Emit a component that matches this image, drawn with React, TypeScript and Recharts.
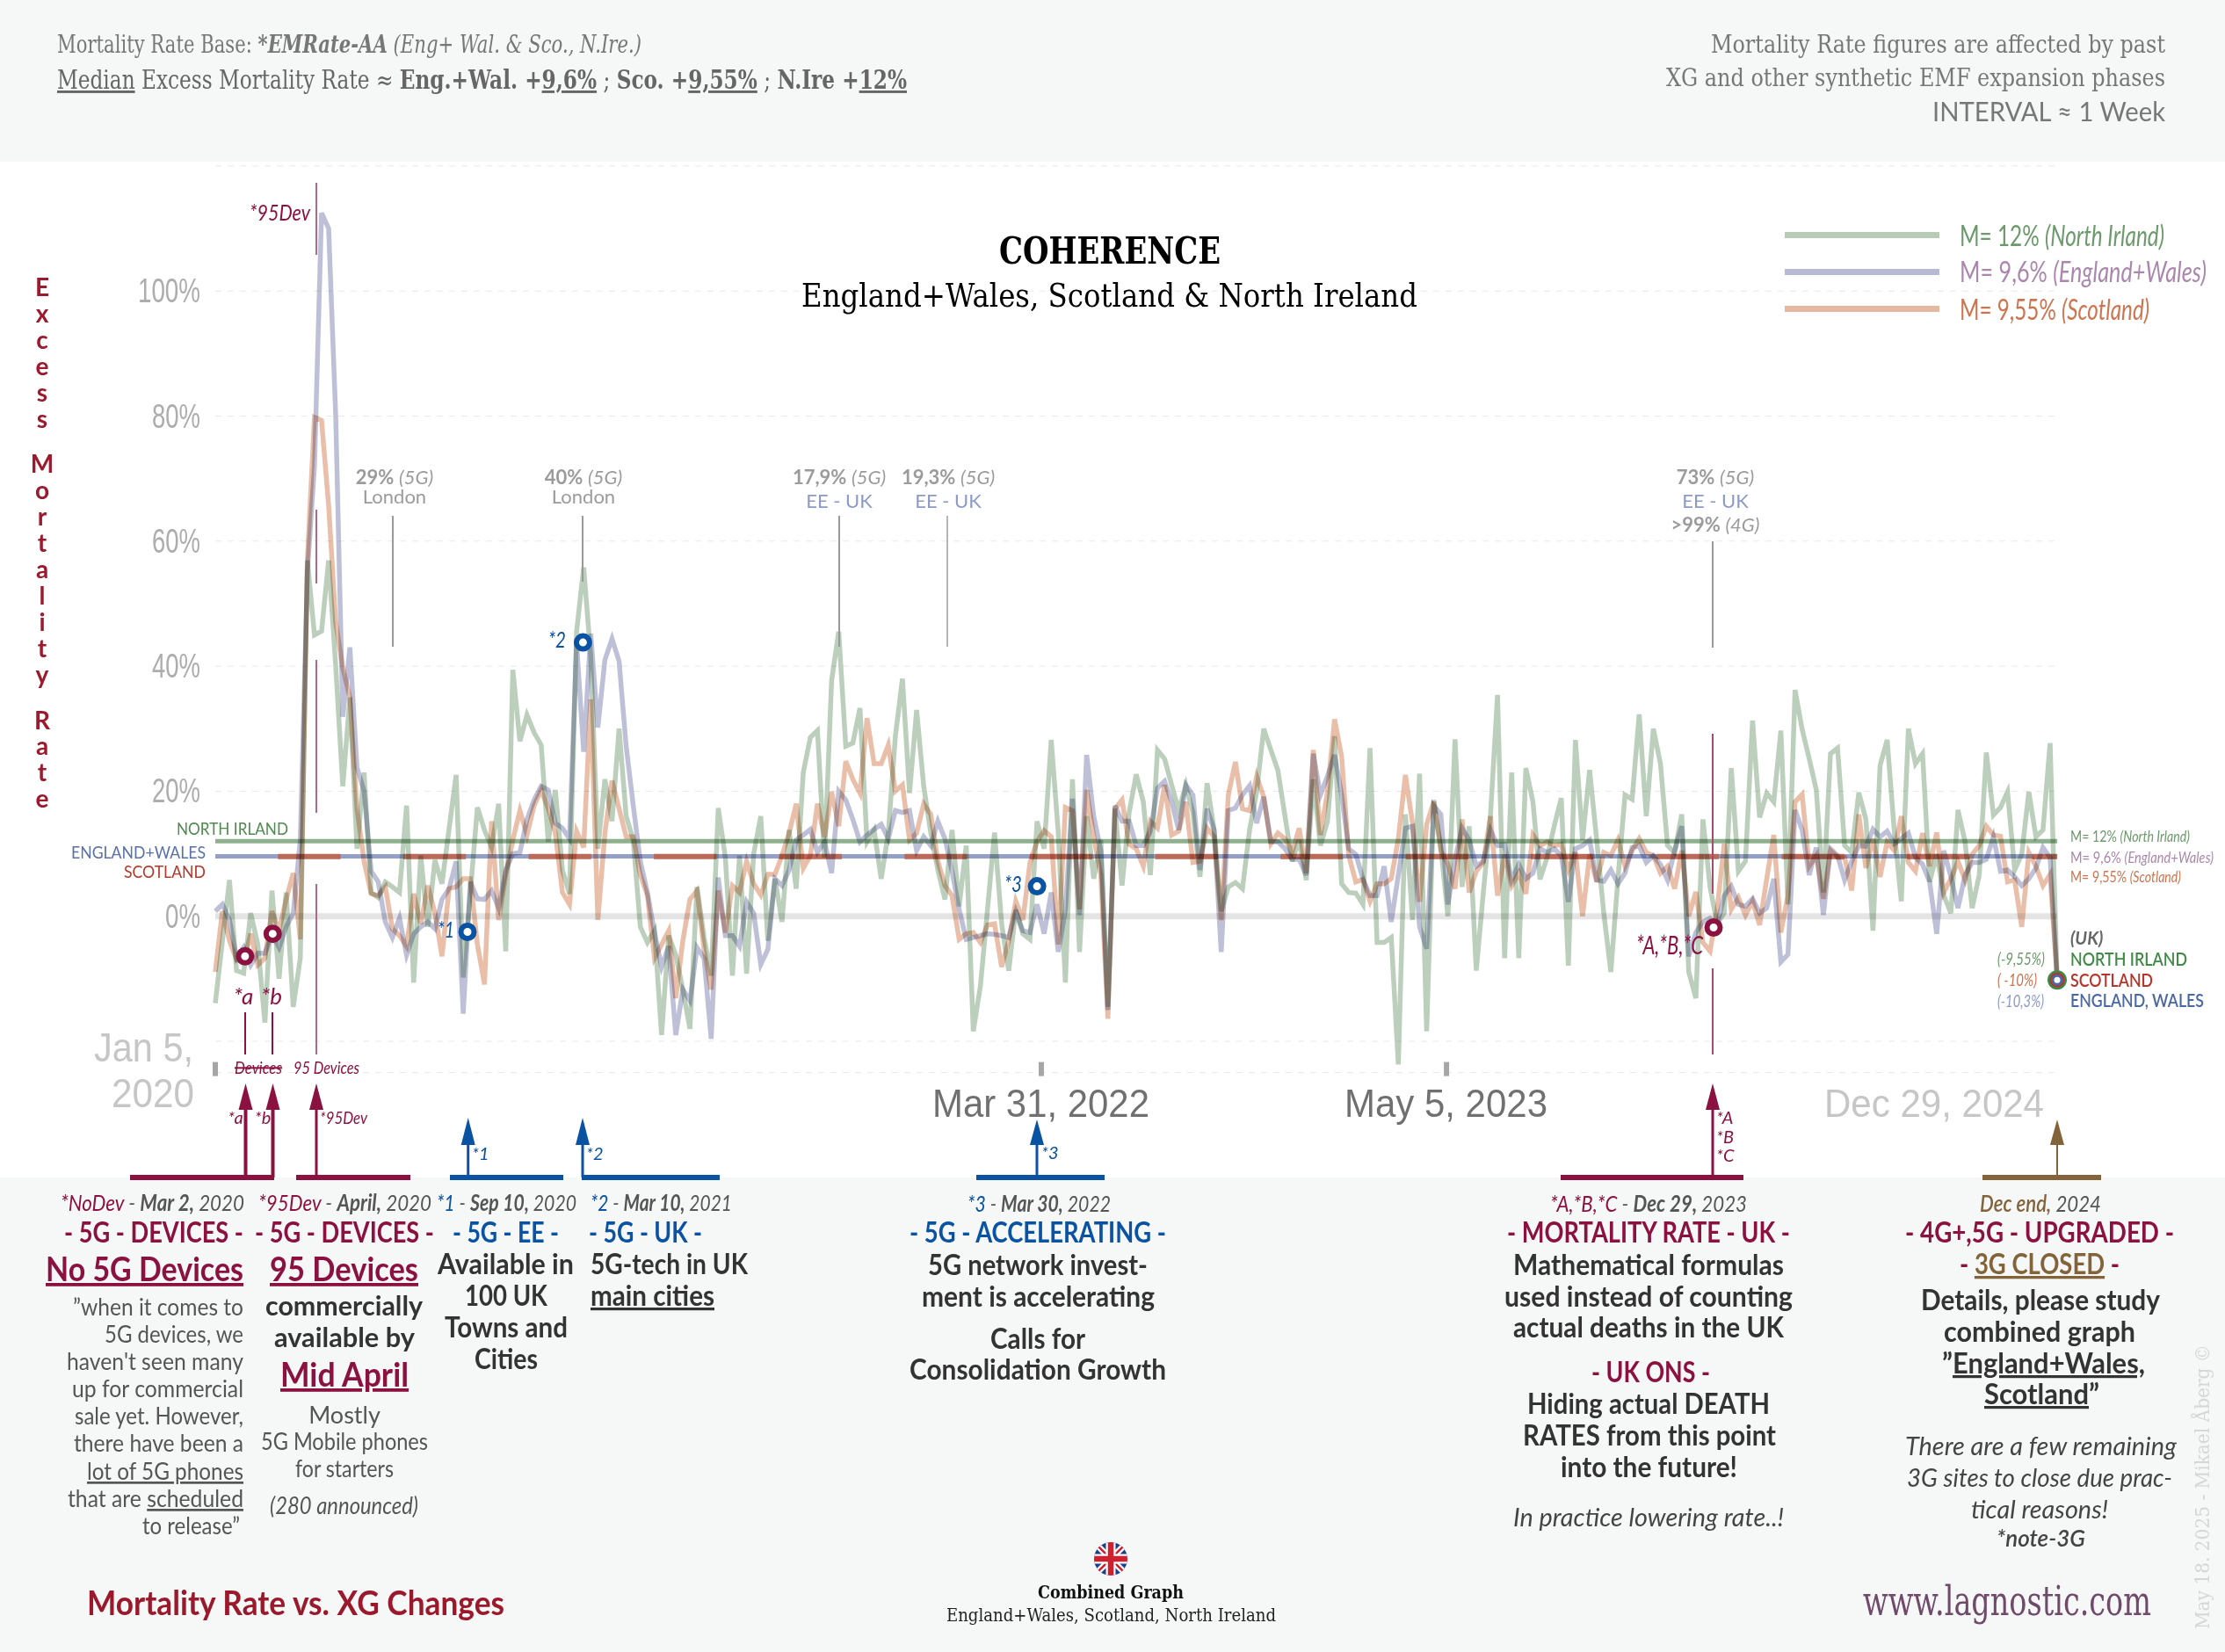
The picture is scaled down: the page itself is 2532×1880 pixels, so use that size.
import React from 'react';
import { LineChart, Line, XAxis, YAxis, CartesianGrid, ReferenceLine, ReferenceDot } from 'recharts';

const northIreland = [
  -13.9,-4,5.8,-8.7,-9.1,0.5,-4.5,-17,4.1,-10,3.8,-14.5,-6.7,56.9,45,45.6,56.9,40,20.8,35,10.8,23,3.8,3,5.5,
  4.7,3.8,17.7,-10.6,9.7,-1.7,9,5.2,14,22.6,-9.8,3.8,17.4,13.8,11,18,-5.6,39.4,28,32.2,
  29.4,27.4,11.9,20.2,7.4,3.6,45.5,55.8,41.6,10.8,21.9,15.2,30,16,12.2,-1.7,-4.2,-2.3,-19,-3.1,-6.2,-11.7,-18,4.7,-3.4,
  -9.5,17.3,9.4,-9.5,9.7,-9.2,10,16,-3.9,6,-0.9,13.8,4.4,23,28.6,29.7,9.4,37.7,
  45.5,27.2,27.7,33.3,11.9,13.8,6,13.3,28.8,38,19.7,33,20.8,13.3,7.4,2.7,13.8,1.6,11.3,-18.4,-11.2,1,13.4,-1.2,-8.7,1,
  -2.8,-3.7,15.2,10.8,28.2,13.3,-10.6,21.9,-5.7,16,6,12.2,-14.5,17.2,4.9,16.6,22.7,
  18.3,6.6,26.6,25.2,21,16.9,21,16.6,6.3,21.3,13.8,0.8,4.7,5.4,4.4,13.8,19.9,30,26.6,23.3,16,8.8,12.2,5.8,21.9,11.3,15.2,28.8,
  5.2,3.8,3.7,1.9,26.9,-4.2,-4.2,-3.4,-23.7,16.3,-0.6,22.8,-18.4,18.6,11,0,
  28.3,4.7,14.4,-8.7,3.8,16,35.4,-6.7,23,-6.7,23.7,18.3,5.9,9.4,14.4,18.9,-7.9,28.2,12.2,23.4,12.2,0.5,-8.9,6,19.4,18.7,32.3,
  16,30,24.4,11.3,10.2,16.3,-8.9,-13.1,15.5,4.7,-1.2,0.5,23.7,7.2,8.8,31.3,
  15.8,19.7,18.3,29.7,1.9,36.2,29.9,25.2,20.2,3.8,26,26.9,11.3,10.2,19.8,15.5,-2.3,24.1,28.2,13.8,2.4,30,24.4,26,5.5,9.9,3.3,
  0.5,17,11.9,1.3,6.6,26.2,16.2,17.4,19.9,7.4,9.9,19.9,12.7,13.8,27.7,-10
];

const englandWales = [
  0.8,1.9,-0.6,-6.7,-5,-7.8,-5.9,-5.9,-2.8,-5,-1.7,0.5,12.2,55,72,112.5,110,80,31.9,43,23.8,20,7.2,5.5,-0.9,
  -3.4,-0.3,-6.2,-2.8,-1.7,-0.9,-2,2.7,4.4,8.8,-15.6,5.5,2.8,2.7,4.1,1.3,7.4,10,10.2,15.5,
  18.6,20.8,20.2,14.9,14.1,12.4,43.8,26.3,45.2,30.2,41,44.4,40.8,27.2,17.7,8.8,3.8,-2.6,-8.1,-4.8,-19,-11.7,-13.5,-5,-6.7,
  -19.6,6.2,-3.1,-3.1,-4.8,2.3,0.5,-7.7,-5.3,6,4.9,7.4,12.2,13,13.9,10.2,11.9,6.9,
  20,18.6,15.5,11.9,13,13.9,14.7,12.4,16.9,16.6,16.9,10.5,12.7,11.3,15.2,12.4,7.2,1.1,-3.7,-3.4,-3.1,-2.8,-2.9,-3.1,-3.4,0.8,
  -2.3,-2.6,1.9,-2.8,3.8,-5.7,1.1,18.8,0.2,25.8,16,10.5,-15,17.7,15.2,15.2,11.3,
  11.3,13.6,20.5,21.6,18.3,13.8,21,19.4,7.4,17.2,13.8,-5.7,16.9,17.3,19.4,20.9,14.9,19.1,11.9,11.9,10.8,9.1,9.1,6.6,26,19.4,22.4,25.8,
  19.4,10.8,9.9,6,3.3,3.3,8,-0.9,6.6,14.1,14.4,-1.7,-5.2,17.7,16.3,1.9,
  9.1,14.1,12.2,8,8.8,13.8,11.3,11.5,5.8,8.3,6,6.9,10.8,10.2,10.8,9.7,2.3,10.8,11.3,12.2,5.8,5.6,7.4,5.2,6.9,11,11.3,
  8.6,9.7,8.3,5.8,10.5,14.4,-6.4,-2.6,-0.9,-0.3,-1.5,3.3,4.8,1.9,1.6,2.8,
  0.5,1.3,6,-7.3,-6.1,17,13.8,6.6,11,0.2,10.8,9.7,5.8,8.8,11.3,11.2,13.9,12.7,13.6,11.6,12.4,13.3,9.4,8.3,5.5,-2.8,10.5,
  6.3,1.3,6.6,8.6,8.6,9.1,12.7,7.2,7.4,6.3,4.9,6,7.7,11,9.4,-10.3
];

const scotland = [
  -8.9,0.8,-3.9,-7,-7.3,-2.8,-7.8,-6.7,0.8,-2.3,2.7,6.9,-3.7,57,79.8,79.3,65.7,47,39.7,35,17.2,8.8,3.6,3.3,4.7,
  -2,-3.1,-4.8,3.6,-1.2,4.9,0.5,-6.4,4.4,4.7,6,6,-4.5,-10.9,15.2,-0.6,6.6,12.2,16.9,13,
  17.7,20.2,17.2,13.3,3.8,1.9,13.6,11,34.7,-0.6,13.3,21.7,17.2,12.7,12.7,6.6,3.3,-6.7,-4.5,-2.3,-13.1,-3.9,2.7,4.1,-5.3,
  -11.7,4.1,-2.6,4.9,3.8,8.8,5.2,3.4,6.7,6.7,9.7,13.3,18,7.7,9.7,18,12.7,19.9,
  14.4,24.8,21.9,19.7,31.7,24.4,24.4,27.4,20,21,12.2,13.3,18,16.3,8.8,4.9,3.3,-3.7,-2.8,-2.6,-4.2,-1.4,-1.2,-8.1,-3.9,2.4,
  -0.6,8.6,11.9,13.7,12.7,-4.5,17.4,16.9,1.1,20.2,12.7,6.6,-16.4,17.2,18.6,11.5,10.8,
  8,15.2,14.1,21,13,13.6,18.3,8.6,8.8,14.1,12.7,-0.6,19.4,24.7,17.2,16.9,22.4,19.1,11.6,13.3,12.4,10.2,14.1,6.9,26.6,13,19.9,31.5,
  25.5,9.7,5.5,5.9,2.4,5.2,5.2,6,12.4,22.6,14.9,2.3,14.7,18.3,10.5,8.3,
  4.4,15.5,3.8,7.2,8.6,16,3.3,9.9,4.9,6.9,3.6,13,11.3,11.9,11.3,11.5,7.4,10.2,0,9.9,5.5,10.2,9.7,12.2,8,10.5,12.4,
  10.2,9.7,6.9,8,4.4,10.5,0,3.9,-4.2,-5.6,1.1,11.6,1.1,3,0.2,2.4,
  -1.4,6,13,-2.6,3.3,18.3,19.5,8,9.7,2.8,10.5,9.4,9.4,4.1,16.3,7.7,12.4,6.3,11.9,10.5,16,8.6,7.2,13.3,8,13.4,3.8,
  6,8.8,5.8,9.9,11.3,14.4,13,12.8,5.5,5.8,-1.7,10.2,8,4.9,6.7,-10
];

const chartData = northIreland.map((v, week) => ({ week, ni: v, ew: englandWales[week], sc: scotland[week] }));

const yTicks = [-20, 0, 20, 40, 60, 80, 100];
const xTicks = [0, 116.6, 173.8, 260];
const medians = { ni: 12, ew: 9.6, sc: 9.55 };
const crimsonMarkers = [
  { week: 4.2, value: -6.4 },
  { week: 8.1, value: -2.8 },
  { week: 211.5, value: -1.8 },
];
const blueMarkers = [
  { week: 35.6, value: -2.5 },
  { week: 51.9, value: 43.8 },
  { week: 116, value: 4.8 },
];
const endValue = -10.2;

const sideTitle = 'Excess Mortality Rate';

const CRIM = '#8b1240';
const BLUE = '#0a52a2';
const BROWN = '#83633a';
const SANS = 'Lato, "Open Sans", sans-serif';
const SERIF = '"DejaVu Serif", serif';
const NARROW = '"Liberation Sans", sans-serif';

function T(p: any) {
  const { x, y, to, size = 26, b, i, fill = '#444', anchor = 'start', u, font = SANS, children, rotate } = p;
  const w = to !== undefined ? Math.abs(to - x) : undefined;
  const extra: any = {};
  if (w !== undefined) { extra.textLength = w; extra.lengthAdjust = 'spacingAndGlyphs'; }
  if (rotate !== undefined) extra.transform = `rotate(${rotate} ${x} ${y})`;
  return (
    <text x={x} y={y} fontSize={size} fontWeight={b === true ? 700 : b || 400} fontStyle={i ? 'italic' : 'normal'}
      fill={fill} textAnchor={anchor} fontFamily={font} textDecoration={u ? 'underline' : undefined} {...extra}>
      {children}
    </text>
  );
}

function YTick(props: any) {
  const { y, payload } = props;
  if (payload.value < 0) return <g />;
  const v = payload.value;
  const len = v === 100 ? 71 : v === 0 ? 40 : 55;
  return (
    <text x={228 - len} y={y + 13} fontSize={38} fill="#adadad" fontFamily={NARROW} textLength={len} lengthAdjust="spacingAndGlyphs">
      {v}%
    </text>
  );
}

function XTick(props: any) {
  const { x, y, payload } = props;
  const mark = <rect x={x - 3} y={y - 12} width={6} height={16} fill="#a6a6a6" />;
  if (payload.value === 0) {
    return (
      <g>
        {mark}
        <text x={107} y={1208} fontSize={46} fill="#c6c6c6" fontFamily={NARROW} textLength={113} lengthAdjust="spacingAndGlyphs">Jan 5,</text>
        <text x={127} y={1260} fontSize={46} fill="#c6c6c6" fontFamily={NARROW} textLength={94} lengthAdjust="spacingAndGlyphs">2020</text>
      </g>
    );
  }
  if (payload.value === 260) {
    return <text x={2076} y={1271} fontSize={44} fill="#c6c6c6" fontFamily={NARROW} textLength={250} lengthAdjust="spacingAndGlyphs">Dec 29, 2024</text>;
  }
  const first = payload.value < 150;
  return (
    <g>
      {mark}
      <text x={first ? 1061 : 1530} y={1271} fontSize={44} fill="#707070" fontFamily={NARROW} textLength={first ? 247 : 231} lengthAdjust="spacingAndGlyphs">
        {first ? 'Mar 31, 2022' : 'May 5, 2023'}
      </text>
    </g>
  );
}

function Arrow({ x, tip, base, bar0, bar1, color, sw = 3 }: any) {
  const hw = 8;
  return (
    <g>
      <line x1={x} x2={x} y1={base} y2={1340} stroke={color} strokeWidth={sw} />
      <polygon points={`${x},${tip} ${x - hw},${base} ${x + hw},${base}`} fill={color} />
      <rect x={bar0} y={1337} width={bar1 - bar0} height={6} fill={color} />
    </g>
  );
}

function Flag() {
  return (
    <g transform="translate(1264 1774)">
      <clipPath id="flagClip"><circle r={19} /></clipPath>
      <g clipPath="url(#flagClip)">
        <rect x={-20} y={-20} width={40} height={40} fill="#1f3d8a" />
        <path d="M-20,-20 L20,20 M20,-20 L-20,20" stroke="#fff" strokeWidth={7} />
        <path d="M-20,-20 L20,20 M20,-20 L-20,20" stroke="#cf2030" strokeWidth={2.5} />
        <path d="M0,-20 V20 M-20,0 H20" stroke="#fff" strokeWidth={11} />
        <path d="M0,-20 V20 M-20,0 H20" stroke="#cf2030" strokeWidth={6.5} />
      </g>
    </g>
  );
}

function Lead({ x, y1, y2, c = '#999', w = 2 }: any) {
  return <line x1={x} x2={x} y1={y1} y2={y2} stroke={c} strokeWidth={w} />;
}

function Overlay() {
  return (
    <svg width={2532} height={1880} style={{ position: 'absolute', left: 0, top: 0 }}>
      {/* header */}
      <T x={65} y={60} to={730} size={27} font={SERIF} fill="#777">
        Mortality Rate Base: <tspan fontWeight={700} fontStyle="italic">*EMRate-AA</tspan> <tspan fontStyle="italic">(Eng+ Wal. &amp; Sco., N.Ire.)</tspan>
      </T>
      <T x={65} y={101} to={1032} size={29} font={SERIF} fill="#666">
        <tspan textDecoration="underline">Median</tspan> Excess Mortality Rate ≈ <tspan fontWeight={700}>Eng.+Wal. +<tspan textDecoration="underline">9,6%</tspan></tspan> ; <tspan fontWeight={700}>Sco. +<tspan textDecoration="underline">9,55%</tspan></tspan> ; <tspan fontWeight={700}>N.Ire +<tspan textDecoration="underline">12%</tspan></tspan>
      </T>
      <T x={1947} y={60} to={2464} size={28} font={SERIF} fill="#777">Mortality Rate figures are affected by past</T>
      <T x={1896} y={98} to={2464} size={28} font={SERIF} fill="#777">XG and other synthetic EMF expansion phases</T>
      <T x={2199} y={138} to={2464} size={31} fill="#777">INTERVAL ≈ 1 Week</T>

      {/* title */}
      <T x={1137} y={300} to={1389} size={43} b font={SERIF} fill="#000">COHERENCE</T>
      <T x={912} y={349} to={1613} size={38} font={SERIF} fill="#000">England+Wales, Scotland &amp; North Ireland</T>

      {/* legend */}
      <rect x={2031} y={264} width={176} height={7} fill="#b7cbb7" />
      <rect x={2031} y={306} width={176} height={7} fill="#b8bad3" />
      <rect x={2031} y={348} width={176} height={7} fill="#e5b8a2" />
      <T x={2230} y={280} to={2463} size={33} fill="#6b9a6b">M= 12% <tspan fontStyle="italic">(North Irland)</tspan></T>
      <T x={2230} y={321} to={2511} size={33} fill="#ab86ad">M= 9,6% <tspan fontStyle="italic">(England+Wales)</tspan></T>
      <T x={2230} y={364} to={2446} size={33} fill="#cc7550">M= 9,55% <tspan fontStyle="italic">(Scotland)</tspan></T>

      {/* side title */}
      {(() => {
        let y = 337;
        return sideTitle.split('').map((ch, k) => {
          const cy = y;
          y += ch === ' ' ? 22 : 29.9;
          if (ch === ' ') return null;
          return <text key={k} x={48} y={cy} textAnchor="middle" fontSize={28} fontWeight={700} fill="#9b1a2e" fontFamily={SANS}>{ch}</text>;
        });
      })()}

      {/* mean labels */}
      <T x={328} y={950} to={201} size={19} anchor="end" fill="#4e8b4e">NORTH IRLAND</T>
      <T x={234} y={977} to={81} size={19} anchor="end" fill="#5a70a8">ENGLAND+WALES</T>
      <T x={234} y={999} to={141} size={19} anchor="end" fill="#b5392a">SCOTLAND</T>
      <T x={2356} y={958} to={2492} size={18} fill="#6b9a6b">M= 12% <tspan fontStyle="italic">(North Irland)</tspan></T>
      <T x={2356} y={982} to={2519} size={18} fill="#ab86ad">M= 9,6% <tspan fontStyle="italic">(England+Wales)</tspan></T>
      <T x={2356} y={1004} to={2482} size={18} fill="#cc7550">M= 9,55% <tspan fontStyle="italic">(Scotland)</tspan></T>
      <T x={2356} y={1075} size={20} i b fill="#666">(UK)</T>
      <T x={2356} y={1099} to={2489} size={21} b={600} fill="#3f8a45">NORTH IRLAND</T>
      <T x={2356} y={1123} to={2450} size={21} b={600} fill="#b8342a">SCOTLAND</T>
      <T x={2356} y={1146} to={2508} size={21} b={600} fill="#4a68a5">ENGLAND, WALES</T>
      <T x={2273} y={1098} to={2327} size={19} i fill="#6c9a6c">(-9,55%)</T>
      <T x={2273} y={1122} to={2318} size={19} i fill="#cc7550">( -10%)</T>
      <T x={2273} y={1146} to={2326} size={19} i fill="#8d9ac8">(-10,3%)</T>

      {/* leaders */}
      <Lead x={360} y1={208} y2={290} c="#b06a85" />
      <Lead x={360} y1={580} y2={664} c="#b06a85" />
      <Lead x={360} y1={751} y2={925} c="#b06a85" />
      <Lead x={360} y1={1006} y2={1200} c="#b06a85" />
      <Lead x={279} y1={1152} y2={1200} c={CRIM} />
      <Lead x={310} y1={1152} y2={1200} c={CRIM} />
      <Lead x={1949} y1={835} y2={1017} c="#a84a70" />
      <Lead x={1949} y1={1102} y2={1200} c="#a84a70" />
      <Lead x={447} y1={587} y2={736} />
      <Lead x={663} y1={587} y2={662} />
      <Lead x={955} y1={587} y2={736} />
      <Lead x={1078} y1={587} y2={736} c="#b5b5b5" />
      <Lead x={1949} y1={616} y2={737} />

      {/* chart callouts */}
      <T x={284} y={251} to={353} size={25} i fill={CRIM}>*95Dev</T>
      <T x={277} y={1143} size={26} i anchor="middle" fill={CRIM}>*a</T>
      <T x={309} y={1143} size={26} i anchor="middle" fill={CRIM}>*b</T>
      <T x={498} y={1067} to={517} size={26} i fill={BLUE}>*1</T>
      <T x={624} y={737} to={644} size={26} i fill={BLUE}>*2</T>
      <T x={1143} y={1015} to={1163} size={26} i fill={BLUE}>*3</T>
      <T x={1862} y={1086} to={1938} size={28} i fill={CRIM}>*A,*B,*C</T>

      <T x={449} y={551} size={22} anchor="middle" fill="#9b9b9b"><tspan fontWeight={700}>29%</tspan> <tspan fontStyle="italic">(5G)</tspan></T>
      <T x={449} y={573} size={22} anchor="middle" fill="#9b9b9b">London</T>
      <T x={664} y={551} size={22} anchor="middle" fill="#9b9b9b"><tspan fontWeight={700}>40%</tspan> <tspan fontStyle="italic">(5G)</tspan></T>
      <T x={664} y={573} size={22} anchor="middle" fill="#9b9b9b">London</T>
      <T x={955} y={551} size={22} anchor="middle" fill="#9b9b9b"><tspan fontWeight={700}>17,9%</tspan> <tspan fontStyle="italic">(5G)</tspan></T>
      <T x={955} y={578} size={22} anchor="middle" fill="#8d9ac8">EE - UK</T>
      <T x={1079} y={551} size={22} anchor="middle" fill="#9b9b9b"><tspan fontWeight={700}>19,3%</tspan> <tspan fontStyle="italic">(5G)</tspan></T>
      <T x={1079} y={578} size={22} anchor="middle" fill="#8d9ac8">EE - UK</T>
      <T x={1952} y={551} size={22} anchor="middle" fill="#9b9b9b"><tspan fontWeight={700}>73%</tspan> <tspan fontStyle="italic">(5G)</tspan></T>
      <T x={1952} y={578} size={22} anchor="middle" fill="#8d9ac8">EE - UK</T>
      <T x={1952} y={605} size={22} anchor="middle" fill="#9b9b9b"><tspan fontWeight={700}>&gt;99%</tspan> <tspan fontStyle="italic">(4G)</tspan></T>

      <T x={267} y={1222} to={321} size={20} i fill={CRIM}><tspan textDecoration="line-through">Devices</tspan></T>
      <T x={334} y={1222} to={409} size={20} i fill={CRIM}>95 Devices</T>

      {/* arrows */}
      <Arrow x={279.5} tip={1233} base={1263} bar0={148} bar1={312} color={CRIM} sw={4} />
      <Arrow x={310.5} tip={1233} base={1263} bar0={148} bar1={312} color={CRIM} sw={4} />
      <Arrow x={360} tip={1233} base={1263} bar0={337} bar1={467} color={CRIM} />
      <Arrow x={532.7} tip={1272} base={1303} bar0={512} bar1={641} color={BLUE} />
      <Arrow x={663} tip={1272} base={1303} bar0={662} bar1={819} color={BLUE} />
      <Arrow x={1180} tip={1274} base={1303} bar0={1111} bar1={1257} color={BLUE} />
      <Arrow x={1949} tip={1233} base={1263} bar0={1776} bar1={1984} color={CRIM} />
      <Arrow x={2341} tip={1274} base={1303} bar0={2256} bar1={2391} color={BROWN} sw={2} />
      <T x={268} y={1279} size={20} i anchor="middle" fill={CRIM}>*a</T>
      <T x={299} y={1279} size={20} i anchor="middle" fill={CRIM}>*b</T>
      <T x={364} y={1279} to={418} size={20} i fill={CRIM}>*95Dev</T>
      <T x={537} y={1320} size={20} i fill={BLUE}>*1</T>
      <T x={667} y={1320} size={20} i fill={BLUE}>*2</T>
      <T x={1185} y={1319} size={20} i fill={BLUE}>*3</T>
      <T x={1953} y={1279} size={20} i fill={CRIM}>*A</T>
      <T x={1953} y={1301} size={20} i fill={CRIM}>*B</T>
      <T x={1953} y={1322} size={20} i fill={CRIM}>*C</T>

      {/* column 1 */}
      <T x={69} y={1378} to={278} size={26} i fill="#555"><tspan fill={CRIM}>*NoDev</tspan> - <tspan fontWeight={700}>Mar 2,</tspan> 2020</T>
      <T x={73} y={1414} to={277} size={33} b fill={CRIM}>- 5G - DEVICES -</T>
      <T x={52} y={1458} to={277} size={38} b fill={CRIM} u>No 5G Devices</T>
      <T x={83} y={1497} to={277} size={27} fill="#555">”when it comes to</T>
      <T x={119} y={1528} to={277} size={27} fill="#555">5G devices, we</T>
      <T x={76} y={1559} to={277} size={27} fill="#555">haven't seen many</T>
      <T x={82} y={1590} to={277} size={27} fill="#555">up for commercial</T>
      <T x={85} y={1621} to={277} size={27} fill="#555">sale yet. However,</T>
      <T x={84} y={1652} to={277} size={27} fill="#555">there have been a</T>
      <T x={99} y={1684} to={277} size={27} fill="#555" u>lot of 5G phones</T>
      <T x={77} y={1715} to={277} size={27} fill="#555">that are <tspan textDecoration="underline">scheduled</tspan></T>
      <T x={162} y={1746} to={273} size={27} fill="#555">to release”</T>

      {/* column 2 */}
      <T x={294} y={1378} to={491} size={26} i fill="#555"><tspan fill={CRIM}>*95Dev</tspan> - <tspan fontWeight={700}>April,</tspan> 2020</T>
      <T x={290} y={1414} to={494} size={33} b fill={CRIM}>- 5G - DEVICES -</T>
      <T x={307} y={1458} to={476} size={38} b fill={CRIM} u>95 Devices</T>
      <T x={302} y={1497} to={481} size={31} b fill="#333">commercially</T>
      <T x={312} y={1533} to={472} size={31} b fill="#333">available by</T>
      <T x={319} y={1578} to={465} size={38} b fill={CRIM} u>Mid April</T>
      <T x={392} y={1620} size={27} anchor="middle" fill="#555">Mostly</T>
      <T x={297} y={1650} to={487} size={27} fill="#555">5G Mobile phones</T>
      <T x={336} y={1681} to={448} size={27} fill="#555">for starters</T>
      <T x={307} y={1723} to={476} size={27} i fill="#555">(280 announced)</T>

      {/* column 3 */}
      <T x={497} y={1378} to={656} size={26} i fill="#555"><tspan fill={BLUE}>*1</tspan> - <tspan fontWeight={700}>Sep 10,</tspan> 2020</T>
      <T x={515} y={1414} to={636} size={33} b fill={BLUE}>- 5G - EE -</T>
      <T x={498} y={1450} to={653} size={32} b fill="#333">Available in</T>
      <T x={529} y={1486} to={623} size={32} b fill="#333">100 UK</T>
      <T x={506} y={1522} to={646} size={32} b fill="#333">Towns and</T>
      <T x={540} y={1558} to={612} size={32} b fill="#333">Cities</T>

      {/* column 4 */}
      <T x={672} y={1378} to={833} size={26} i fill="#555"><tspan fill={BLUE}>*2</tspan> - <tspan fontWeight={700}>Mar 10,</tspan> 2021</T>
      <T x={670} y={1414} to={799} size={33} b fill={BLUE}>- 5G - UK -</T>
      <T x={672} y={1450} to={851} size={32} b fill="#333">5G-tech in UK</T>
      <T x={672} y={1486} to={813} size={32} b fill="#333" u>main cities</T>

      <T x={99} y={1838} to={574} size={39} b fill="#9a1a2c">Mortality Rate vs. XG Changes</T>

      {/* column *3 */}
      <T x={1101} y={1379} to={1264} size={26} i fill="#555"><tspan fill={BLUE}>*3</tspan> - <tspan fontWeight={700}>Mar 30,</tspan> 2022</T>
      <T x={1035} y={1414} to={1327} size={33} b fill={BLUE}>- 5G - ACCELERATING -</T>
      <T x={1056} y={1451} to={1306} size={32} b fill="#333">5G network invest-</T>
      <T x={1049} y={1487} to={1314} size={32} b fill="#333">ment is accelerating</T>
      <T x={1127} y={1535} to={1235} size={32} b fill="#333">Calls for</T>
      <T x={1035} y={1570} to={1327} size={32} b fill="#333">Consolidation Growth</T>

      {/* column A */}
      <T x={1764} y={1379} to={1988} size={26} i fill="#555"><tspan fill={CRIM}>*A,*B,*C</tspan> - <tspan fontWeight={700}>Dec 29,</tspan> 2023</T>
      <T x={1715} y={1414} to={2037} size={33} b fill={CRIM}>- MORTALITY RATE - UK -</T>
      <T x={1722} y={1451} to={2030} size={32} b fill="#333">Mathematical formulas</T>
      <T x={1712} y={1487} to={2040} size={32} b fill="#333">used instead of counting</T>
      <T x={1722} y={1522} to={2030} size={32} b fill="#333">actual deaths in the UK</T>
      <T x={1811} y={1573} to={1946} size={33} b fill={CRIM}>- UK ONS -</T>
      <T x={1738} y={1609} to={2014} size={32} b fill="#333">Hiding actual DEATH</T>
      <T x={1733} y={1645} to={2021} size={32} b fill="#333">RATES from this point</T>
      <T x={1776} y={1681} to={1977} size={32} b fill="#333">into the future!</T>
      <T x={1722} y={1737} to={2030} size={29} i fill="#444">In practice lowering rate..!</T>

      {/* last column */}
      <T x={2253} y={1379} to={2391} size={26} i fill="#555"><tspan fill={BROWN} fontWeight={600}>Dec end,</tspan> 2024</T>
      <T x={2168} y={1414} to={2474} size={33} b fill={CRIM}>- 4G+,5G - UPGRADED -</T>
      <T x={2230} y={1450} to={2412} size={33} b fill={CRIM}>- <tspan fill={BROWN} textDecoration="underline">3G CLOSED</tspan> -</T>
      <T x={2186} y={1491} to={2458} size={32} b fill="#333">Details, please study</T>
      <T x={2212} y={1527} to={2430} size={32} b fill="#333">combined graph</T>
      <T x={2210} y={1563} to={2441} size={32} b fill="#333">”<tspan textDecoration="underline">England+Wales,</tspan></T>
      <T x={2258} y={1598} to={2389} size={32} b fill="#333"><tspan textDecoration="underline">Scotland</tspan>”</T>
      <T x={2168} y={1656} to={2477} size={29} i fill="#444">There are a few remaining</T>
      <T x={2170} y={1692} to={2472} size={29} i fill="#444">3G sites to close due prac-</T>
      <T x={2243} y={1728} to={2399} size={29} i fill="#444">tical reasons!</T>
      <T x={2272} y={1760} to={2373} size={27} i b={600} fill="#444">*note-3G</T>

      <Flag />
      <T x={1181} y={1819} to={1347} size={21} b font={SERIF} fill="#111">Combined Graph</T>
      <T x={1077} y={1845} to={1452} size={21} font={SERIF} fill="#222">England+Wales, Scotland, North Ireland</T>
      <T x={2120} y={1838} to={2448} size={46} font={SERIF} fill="#6f4a6a">www.lagnostic.com</T>
      <T x={2514} y={1854} to={2514 + 324} size={22} font={SERIF} fill="#d6d6d6" rotate={-90}>May 18. 2025 - Mikael Åberg ©</T>
    </svg>
  );
}

export default function App() {
  return (
    <div style={{ position: 'absolute', left: 0, top: 0, width: 2532, height: 1880, background: '#fff', overflow: 'hidden' }}>
      <style>{`.recharts-line-curve{mix-blend-mode:multiply}`}</style>
      <div style={{ position: 'absolute', left: 0, top: 0, width: 2532, height: 184, background: '#f6f8f7' }} />
      <div style={{ position: 'absolute', left: 0, top: 1340, width: 2532, height: 540, background: '#f6f8f7' }} />
      <div style={{ position: 'absolute', left: 0, top: 0 }}>
        <LineChart width={2532} height={1880} data={chartData} margin={{ top: 188.9, right: 191, left: 165, bottom: 599.4 }}>
          <CartesianGrid vertical={false} stroke="#e9e9e9" strokeDasharray="7 7" strokeWidth={1} />
          <XAxis dataKey="week" type="number" domain={[0, 260]} ticks={xTicks} interval={0} axisLine={false} tickLine={false} tickSize={0} tickMargin={0} height={60} tick={<XTick />} />
          <YAxis type="number" domain={[-25, 120]} ticks={yTicks} interval={0} axisLine={false} tickLine={false} width={80} tick={<YTick />} />
          <ReferenceLine y={0} stroke="#e4e4e4" strokeWidth={7} />
          <ReferenceLine y={medians.ni} stroke="#8fb08f" strokeWidth={5} />
          <ReferenceLine y={medians.ew} stroke="#95a0c8" strokeWidth={5} />
          <ReferenceLine y={medians.sc} stroke="#bb6a5a" strokeWidth={6} strokeDasharray="71.3 71.3" strokeDashoffset={71.3} />
          <Line dataKey="ni" stroke="#bccfbc" strokeWidth={5.5} dot={false} activeDot={false} isAnimationActive={false} />
          <Line dataKey="ew" stroke="#bec0d8" strokeWidth={5.5} dot={false} activeDot={false} isAnimationActive={false} />
          <Line dataKey="sc" stroke="#e9bfaa" strokeWidth={5.5} dot={false} activeDot={false} isAnimationActive={false} />
          {crimsonMarkers.map((m) => (
            <ReferenceDot key={m.week} x={m.week} y={m.value} r={7.5} fill="#fff" stroke={CRIM} strokeWidth={6} />
          ))}
          {blueMarkers.map((m) => (
            <ReferenceDot key={m.week} x={m.week} y={m.value} r={7.5} fill="#fff" stroke={BLUE} strokeWidth={6} />
          ))}
          <ReferenceDot x={260} y={endValue} r={11} fill="#3c8a48" stroke="none" />
          <ReferenceDot x={260} y={endValue} r={8.5} fill="#b8342a" stroke="none" />
          <ReferenceDot x={260} y={endValue} r={6.5} fill="#4a68a5" stroke="none" />
          <ReferenceDot x={260} y={endValue} r={3.5} fill="#fff" stroke="none" />
        </LineChart>
      </div>
      <Overlay />
    </div>
  );
}
